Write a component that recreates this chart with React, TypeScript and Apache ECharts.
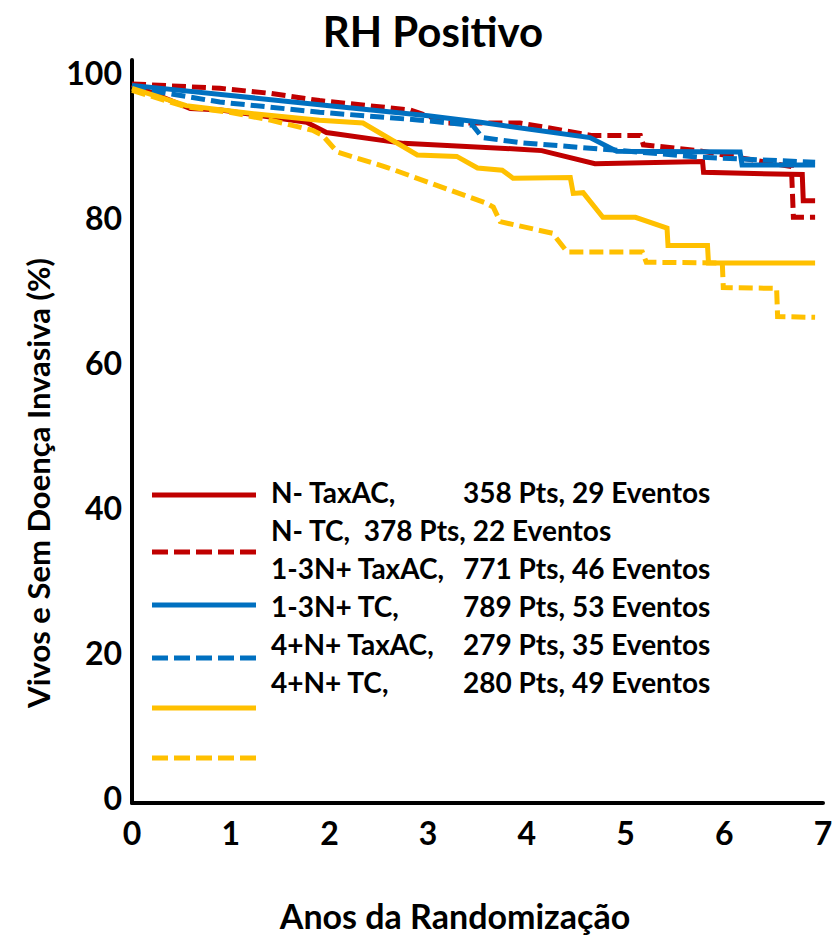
import React, { useEffect, useRef } from "react";
import * as echarts from "echarts";

const titleText = "RH Positivo";
const xAxisTitle = "Anos da Randomização";
const yAxisTitle = "Vivos e Sem Doença Invasiva (%)";
const xTicks = [0, 1, 2, 3, 4, 5, 6, 7];
const yTicks = [0, 20, 40, 60, 80, 100];

// N- TaxAC (red solid)
const nTaxacT = [0, 0.59, 0.9, 1.77, 1.97, 2.75, 3.93, 4.15, 4.69, 5.78, 5.79, 6.79, 6.8, 6.92];
const nTaxacV = [98.3, 95, 94.8, 93.1, 91.7, 90.2, 89.4, 89.2, 87.4, 87.7, 86.2, 85.9, 82.3, 82.3];
// N- TC (red dashed)
const nTcT = [0, 0.89, 1.4, 1.9, 2.82, 3.2, 3.93, 4.2, 4.65, 5.15, 5.18, 5.74, 6.68, 6.7, 6.92];
const nTcV = [98.4, 97.8, 97.1, 96.1, 94.8, 93, 93, 92.4, 91.3, 91.3, 90, 89.2, 87, 80, 80];
// 1-3N+ TaxAC (blue solid)
const n13TaxacT = [0, 1, 2, 3, 3.53, 4.64, 4.91, 6.16, 6.18, 6.92];
const n13TaxacV = [98.2, 96.8, 95.4, 94, 93.1, 91, 89.1, 89, 87.2, 87.2];
// 1-3N+ TC (blue dashed)
const n13TcT = [0, 0.89, 1.9, 2.92, 3.45, 3.55, 3.93, 4.95, 5.75, 6.92];
const n13TcV = [97.9, 95.9, 94.5, 93.4, 92.7, 91, 90.3, 89.2, 88.3, 87.6];
// 4+N+ TaxAC (yellow solid)
const n4TaxacT = [0, 0.55, 1.23, 1.9, 2.34, 2.89, 3.29, 3.5, 3.75, 3.86, 4.44, 4.47, 4.57, 4.77, 5.1, 5.42, 5.43, 5.83, 5.84, 6.92];
const n4TaxacV = [97.8, 95.4, 94.3, 93.4, 93, 88.6, 88.4, 86.8, 86.5, 85.4, 85.5, 83.3, 83.4, 80, 80, 78.5, 76.1, 76.1, 73.7, 73.7];
// 4+N+ TC (yellow dashed)
const n4TcT = [0, 0.56, 0.99, 1.4, 1.83, 1.93, 2.08, 2.58, 3.58, 3.66, 3.73, 4.26, 4.41, 5.17, 5.21, 5.98, 5.99, 6.53, 6.54, 6.92];
const n4TcV = [97.5, 95.2, 94.5, 93.4, 92, 91.3, 89, 86.9, 82, 81.4, 79.4, 77.8, 75.2, 75.2, 73.8, 73.7, 70.3, 70.2, 66.3, 66.2];

const legendLeft = ["N- TaxAC,", "N- TC,  378 Pts, 22 Eventos", "1-3N+ TaxAC,", "1-3N+ TC,", "4+N+ TaxAC,", "4+N+ TC,"];
const legendRight = ["358 Pts, 29 Eventos", "", "771 Pts, 46 Eventos", "789 Pts, 53 Eventos", "279 Pts, 35 Eventos", "280 Pts, 49 Eventos"];

const RED = "#C00000";
const BLUE = "#0070C0";
const YELLOW = "#FFC000";
const FONT = "Lato";

const seriesDefs = [
  { name: "N- TaxAC", t: nTaxacT, v: nTaxacV, color: RED, dashed: false },
  { name: "N- TC", t: nTcT, v: nTcV, color: RED, dashed: true },
  { name: "1-3N+ TaxAC", t: n13TaxacT, v: n13TaxacV, color: BLUE, dashed: false },
  { name: "1-3N+ TC", t: n13TcT, v: n13TcV, color: BLUE, dashed: true },
  { name: "4+N+ TaxAC", t: n4TaxacT, v: n4TaxacV, color: YELLOW, dashed: false },
  { name: "4+N+ TC", t: n4TcT, v: n4TcV, color: YELLOW, dashed: true },
];

const legendLineY = [495, 552, 605, 658, 708, 758];
const legendTextY = [492, 530, 568, 606, 644, 682];

export default function App() {
  const ref = useRef<HTMLDivElement>(null);
  useEffect(() => {
    if (!ref.current) return;
    const chart = echarts.init(ref.current, undefined, { renderer: "svg" });
    const graphics: any[] = [
      {
        type: "text",
        style: { text: titleText, x: 433, y: 31, align: "center", verticalAlign: "middle", font: `bold 42px ${FONT}`, fill: "#000" },
      },
      {
        type: "text",
        style: { text: xAxisTitle, x: 455, y: 915, align: "center", verticalAlign: "middle", font: `bold 34px ${FONT}`, fill: "#000" },
      },
      {
        type: "text",
        x: 38,
        y: 483,
        rotation: Math.PI / 2,
        style: { text: yAxisTitle, x: 0, y: 0, align: "center", verticalAlign: "middle", font: `bold 31px ${FONT}`, fill: "#000" },
      },
    ];
    seriesDefs.forEach((s, i) => {
      graphics.push({
        type: "line",
        shape: { x1: 152, y1: legendLineY[i], x2: 256, y2: legendLineY[i] },
        style: { stroke: s.color, lineWidth: 5, lineDash: s.dashed ? [16, 6] : null },
      });
      graphics.push({
        type: "text",
        style: { text: legendLeft[i], x: 271, y: legendTextY[i], verticalAlign: "middle", font: `bold 28px ${FONT}`, fill: "#000" },
      });
      if (legendRight[i]) {
        graphics.push({
          type: "text",
          style: { text: legendRight[i], x: 463, y: legendTextY[i], verticalAlign: "middle", font: `bold 28px ${FONT}`, fill: "#000" },
        });
      }
    });

    chart.setOption({
      animation: false,
      grid: { left: 132, right: 14, top: 60, bottom: 134, containLabel: false },
      xAxis: {
        type: "value",
        min: 0,
        max: 7,
        interval: 1,
        axisLine: { show: true, onZero: false, lineStyle: { color: "#000", width: 4 } },
        axisTick: { show: false },
        splitLine: { show: false },
        axisLabel: { margin: 13, color: "#000", fontFamily: FONT, fontWeight: "bold", fontSize: 32, customValues: xTicks },
      },
      yAxis: {
        type: "value",
        min: -0.8,
        max: 101.7,
        axisLine: { show: true, onZero: false, lineStyle: { color: "#000", width: 4 } },
        axisTick: { show: false },
        splitLine: { show: false },
        axisLabel: { margin: 10, color: "#000", fontFamily: FONT, fontWeight: "bold", fontSize: 32, customValues: yTicks },
      },
      series: seriesDefs.map((s) => ({
        type: "line",
        name: s.name,
        data: s.t.map((t, j) => [t, s.v[j]]),
        showSymbol: false,
        symbol: "none",
        smooth: false,
        lineStyle: { color: s.color, width: 5, type: s.dashed ? [14, 6] : "solid", cap: "butt", join: "miter" },
        itemStyle: { color: s.color },
      })),
      graphic: graphics,
    });
    return () => chart.dispose();
  }, []);
  return <div ref={ref} style={{ position: "absolute", left: 0, top: 0, width: 837, height: 937 }} />;
}
